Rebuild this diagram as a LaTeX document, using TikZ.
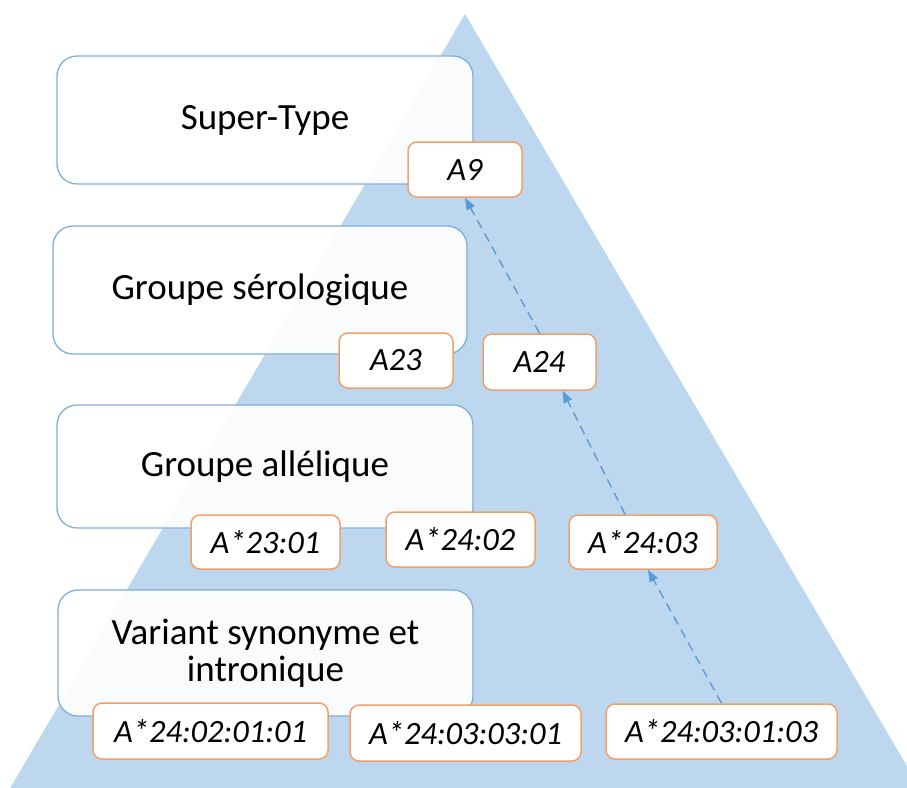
\documentclass[tikz,border=0pt]{standalone}
\usepackage{fontspec}
\setmainfont{Carlito}
\usetikzlibrary{arrows.meta}
\definecolor{tri}{HTML}{BDD7EE}
\definecolor{catline}{HTML}{7FAEDC}
\definecolor{labline}{HTML}{F2A06A}
\definecolor{arr}{HTML}{5B9BD5}
\tikzset{
  cat/.style={draw=catline, line width=1.3pt, fill=white, fill opacity=0.92, text opacity=1,
    rounded corners=20pt, inner sep=0pt, align=center,
    font=\fontsize{37}{37}\selectfont},
  lab/.style={draw=labline, line width=1.5pt, fill=white, rounded corners=9pt, inner sep=0pt,
    font=\fontsize{32.5}{36}\selectfont\itshape},
  upar/.style={draw=arr, line width=1.4pt, dash pattern=on 9pt off 6pt,
    -{Stealth[length=12pt,width=9pt,inset=0pt]}},
}
\begin{document}
\begin{tikzpicture}[x=1pt,y=-1pt]
\useasboundingbox (0,0) rectangle (907,787);
\begin{scope}
\clip (0,0) rectangle (907,787);
\fill[tri] (465,14) -- (921,790) -- (9,790) -- cycle;
\end{scope}
% category boxes
\node[cat, minimum width=416pt, minimum height=128pt] (c1) at (265,120) {Super-Type};
\node[cat, minimum width=414pt, minimum height=128pt] (c2) at (260,290) {Groupe sérologique};
\node[cat, minimum width=416pt, minimum height=123pt] (c3) at (265,466.5) {Groupe allélique};
\node[cat, minimum width=415pt, minimum height=126pt] (c4) at (265.5,653) {Variant synonyme et\\intronique};
% labels
\node[lab, minimum width=114pt, minimum height=55pt] (a9) at (465,169.5) {A9};
\node[lab, minimum width=114pt, minimum height=55pt] (a23) at (396,360.5) {A23};
\node[lab, minimum width=113pt, minimum height=56pt] (a24) at (539.5,362) {A24};
\node[lab, minimum width=149pt, minimum height=54pt] (a2301) at (265.5,542) {A*23:01};
\node[lab, minimum width=149pt, minimum height=55pt] (a2402) at (460.5,539.5) {A*24:02};
\node[lab, minimum width=148pt, minimum height=54pt] (a2403) at (643,542) {A*24:03};
\node[lab, minimum width=235pt, minimum height=56pt] (a24020101) at (210.5,731) {A*24:02:01:01};
\node[lab, minimum width=231pt, minimum height=56pt] (a24030301) at (465.5,733) {A*24:03:03:01};
\node[lab, minimum width=231pt, minimum height=55pt] (a24030103) at (721.5,731.5) {A*24:03:01:03};
% arrows
\draw[upar] (a24030103.north) -- ([xshift=5pt]a2403.south);
\draw[upar] ([xshift=-18pt]a2403.north) -- ([xshift=23pt]a24.south);
\draw[upar] (a24.north) -- (a9.south);
\end{tikzpicture}
\end{document}
